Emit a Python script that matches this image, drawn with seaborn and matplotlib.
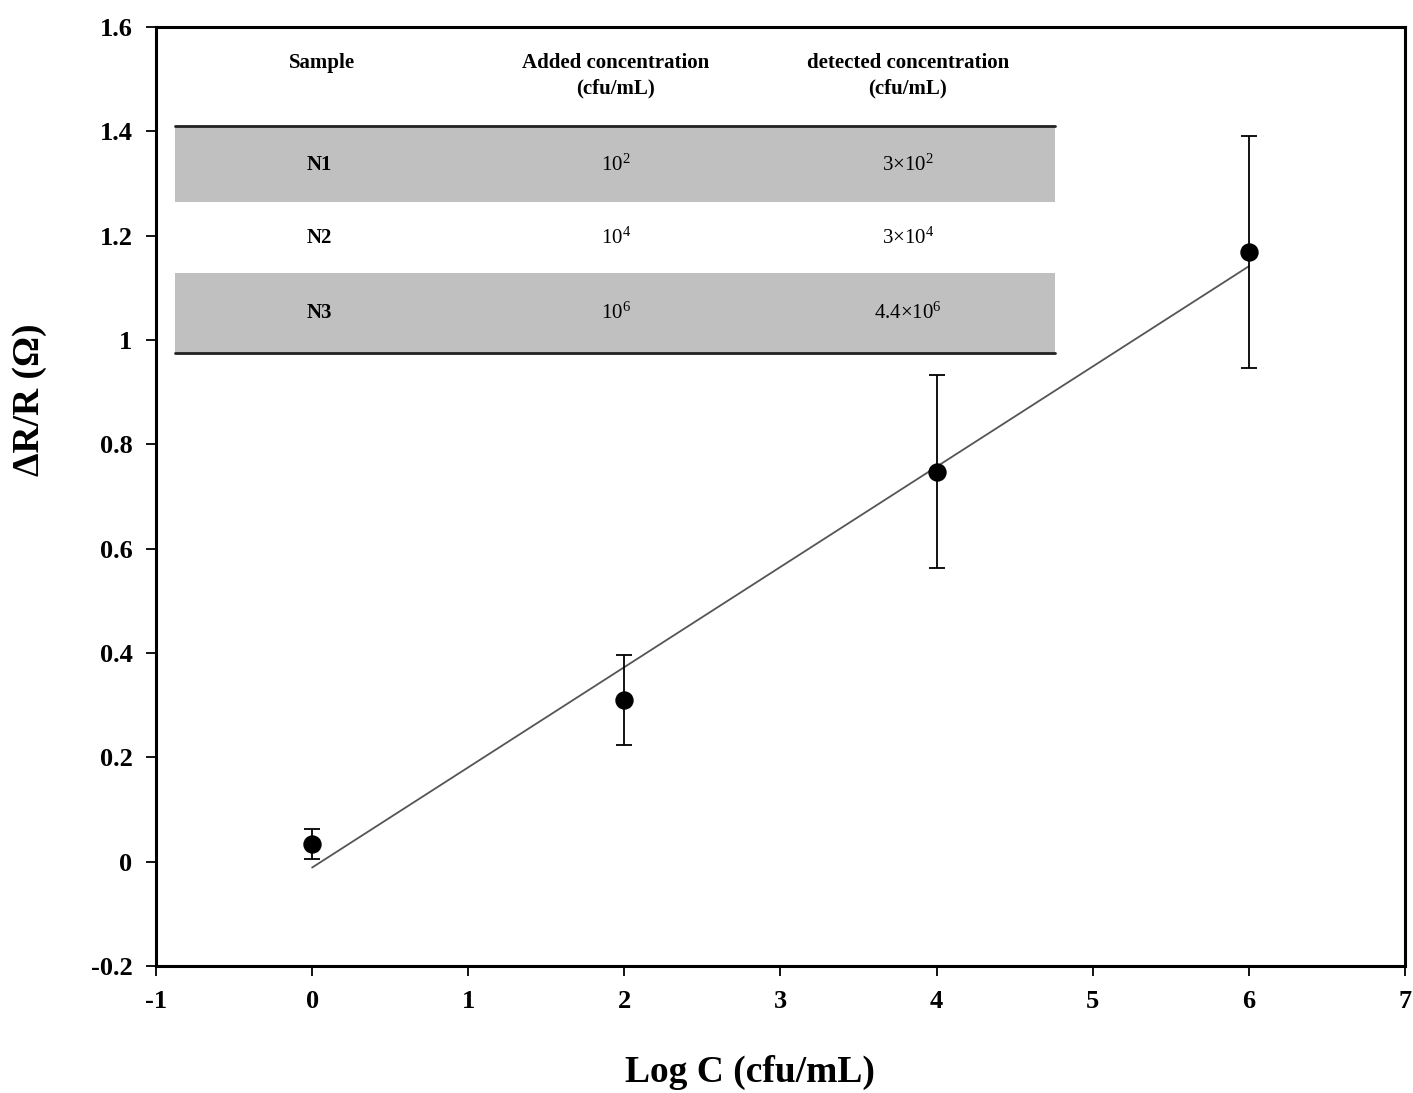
import numpy as np
import pandas as pd
import matplotlib
matplotlib.use("Agg")
import matplotlib.pyplot as plt
import seaborn as sns
from matplotlib.patches import Rectangle
from matplotlib.lines import Line2D

# ---- data ----
log_c = [0, 2, 4, 6]
delta_r = [0.034, 0.31, 0.747, 1.169]
err = [0.028, 0.087, 0.185, 0.222]

samples = ["N1", "N2", "N3"]
added = [r"$\mathregular{10^{2}}$", r"$\mathregular{10^{4}}$", r"$\mathregular{10^{6}}$"]
detected = [r"$\mathregular{3{\times}10^{2}}$", r"$\mathregular{3{\times}10^{4}}$",
            r"$\mathregular{4.4{\times}10^{6}}$"]
headers_line1 = ["Sample", "Added concentration", "detected concentration"]
headers_line2 = ["", "(cfu/mL)", "(cfu/mL)"]

x_ticks = [-1, 0, 1, 2, 3, 4, 5, 6, 7]
y_ticks = [-0.2, 0, 0.2, 0.4, 0.6, 0.8, 1, 1.2, 1.4, 1.6]
y_ticklabels = ["-0.2", "0", "0.2", "0.4", "0.6", "0.8", "1", "1.2", "1.4", "1.6"]

sns.set_theme(style="ticks")
plt.rcParams["font.family"] = ["Liberation Serif", "DejaVu Serif"]
plt.rcParams["mathtext.fontset"] = "custom"
plt.rcParams["mathtext.rm"] = "Liberation Serif"
plt.rcParams["text.color"] = "black"
plt.rcParams["axes.labelcolor"] = "black"

df = pd.DataFrame({"x": log_c, "y": delta_r})

fig = plt.figure(figsize=(14.13, 10.93), dpi=100)
ax = fig.add_axes([0.1104, 0.1162, 0.8839, 0.8591])

sns.regplot(data=df, x="x", y="y", ci=None, scatter=False, ax=ax,
            line_kws=dict(color="#555555", lw=1.3))
ax.errorbar(log_c, delta_r, yerr=err, fmt="none", ecolor="black",
            elinewidth=1.3, capsize=6, capthick=1.3, zorder=3)
sns.scatterplot(data=df, x="x", y="y", ax=ax, color="black", s=150,
                edgecolor="black", zorder=4)

ax.set_xlim(-1, 7)
ax.set_ylim(-0.2, 1.6)
ax.set_xticks(x_ticks)
ax.set_xticklabels([str(t) for t in x_ticks])
ax.set_yticks(y_ticks)
ax.set_yticklabels(y_ticklabels)
for lab in ax.get_xticklabels() + ax.get_yticklabels():
    lab.set_fontweight("bold")
    lab.set_fontsize(19)
    lab.set_color("black")
ax.tick_params(direction="out", length=7, width=1.3, pad=10, colors="black")
for s in ax.spines.values():
    s.set_visible(True)
    s.set_linewidth(2.2)
    s.set_color("black")

ax.set_xlabel("Log C (cfu/mL)", fontsize=27, fontweight="bold")
ax.set_ylabel("ΔR/R (Ω)", fontsize=27, fontweight="bold")
ax.xaxis.set_label_coords(0.4756, -0.113)
ax.xaxis.label.set_va("center")
ax.yaxis.set_label_coords(-0.101, 0.603)
ax.yaxis.label.set_va("center")

# ---- inset table ----
tr = ax.transAxes
x0, x1 = 0.0152, 0.7198
rows_y = [0.8946, 0.8136, 0.738, 0.6528]
grey = "#c0c0c0"
for i, shade in enumerate([True, False, True]):
    if shade:
        ax.add_patch(Rectangle((x0, rows_y[i + 1]), x1 - x0, rows_y[i] - rows_y[i + 1],
                               transform=tr, facecolor=grey, edgecolor="none", zorder=1))
for yy in (rows_y[0], rows_y[-1]):
    ax.add_line(Line2D([x0, x1], [yy, yy], transform=tr, color="#222222", lw=2, zorder=2))

col_x = [0.133, 0.368, 0.602]
for cx, h1, h2 in zip(col_x, headers_line1, headers_line2):
    ax.text(cx, 0.9617, h1, transform=tr, ha="center", va="center", fontsize=15,
            fontweight="bold")
    if h2:
        ax.text(cx, 0.934, h2, transform=tr, ha="center", va="center", fontsize=15,
                fontweight="bold")
row_text_y = [0.853, 0.775, 0.695]
for ry, s, a, d in zip(row_text_y, samples, added, detected):
    ax.text(0.131, ry, s, transform=tr, ha="center", va="center", fontsize=15, fontweight="bold")
    ax.text(col_x[1], ry, a, transform=tr, ha="center", va="center", fontsize=15)
    ax.text(col_x[2], ry, d, transform=tr, ha="center", va="center", fontsize=15)

fig.savefig("out.png", dpi=100)
